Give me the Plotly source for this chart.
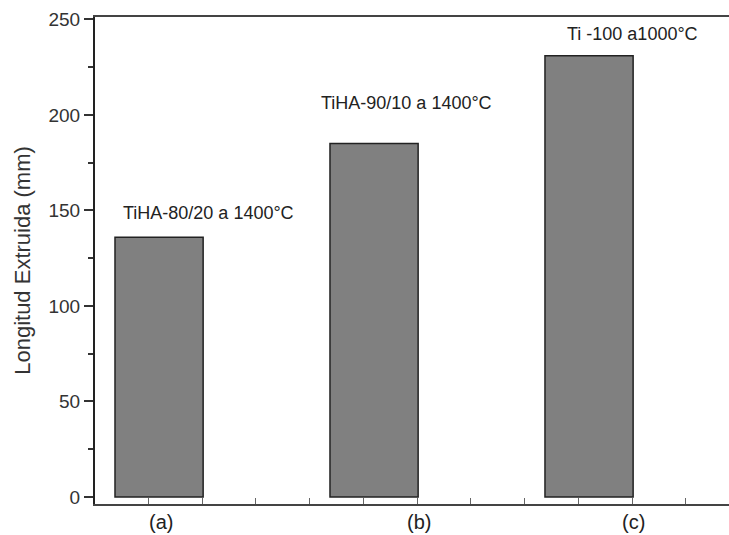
import plotly.graph_objects as go

categories = ["(a)", "(b)", "(c)"]
values = [136, 185, 231]
bar_labels = ["TiHA-80/20 a 1400°C", "TiHA-90/10 a 1400°C", "Ti -100 a1000°C"]
y_title = "Longitud Extruida (mm)"

xs = list(range(len(categories)))
# style offsets (data units / pixels) to mimic reference placement
label_dx = [0.23, 0.15, 0.20]
label_shift = [24, 41, 22]
cat_dx = [0.01, 0.21, 0.205]

FONT = "Liberation Sans, Arial, sans-serif"

fig = go.Figure()
fig.add_trace(go.Bar(
    x=xs, y=values, width=0.41,
    marker=dict(color="#808080", line=dict(color="#222222", width=1.5)),
    showlegend=False,
))

for i, (v, t) in enumerate(zip(values, bar_labels)):
    fig.add_annotation(x=xs[i] + label_dx[i], y=v, text=t, showarrow=False,
                       yshift=label_shift[i], yanchor="middle",
                       font=dict(size=18, color="#222222", family=FONT))
for i, c in enumerate(categories):
    fig.add_annotation(x=xs[i] + cat_dx[i], y=0, yref="paper", text=c,
                       showarrow=False, yanchor="middle", yshift=-18,
                       font=dict(size=20, color="#222222", family=FONT))

minor_x = [-0.05 + 0.25 * k for k in range(12)]

fig.update_layout(
    width=729, height=535,
    margin=dict(l=95, r=0, t=17, b=31),
    plot_bgcolor="white", paper_bgcolor="white",
    font=dict(family=FONT, color="#333333"),
    xaxis=dict(range=[-0.298, 2.651], showgrid=False, zeroline=False,
               showline=True, linecolor="#444444", linewidth=2, mirror=True,
               ticks="inside", ticklen=6, tickcolor="#666666", tickwidth=1,
               tickvals=minor_x, showticklabels=False),
    yaxis=dict(range=[-3.7, 251.3], showgrid=False, zeroline=False,
               showline=True, linecolor="#222222", linewidth=2,
               ticks="outside", ticklen=9, tickwidth=1.5, tickcolor="#333333",
               tickvals=[0, 50, 100, 150, 200, 250],
               minor=dict(tickvals=[25, 75, 125, 175, 225], ticks="outside",
                          ticklen=5, tickwidth=1.5, tickcolor="#333333"),
               tickfont=dict(size=19, color="#333333"),
               title=dict(text=y_title, font=dict(size=22, color="#333333"),
                          standoff=12)),
)

fig.write_html("out.html")
